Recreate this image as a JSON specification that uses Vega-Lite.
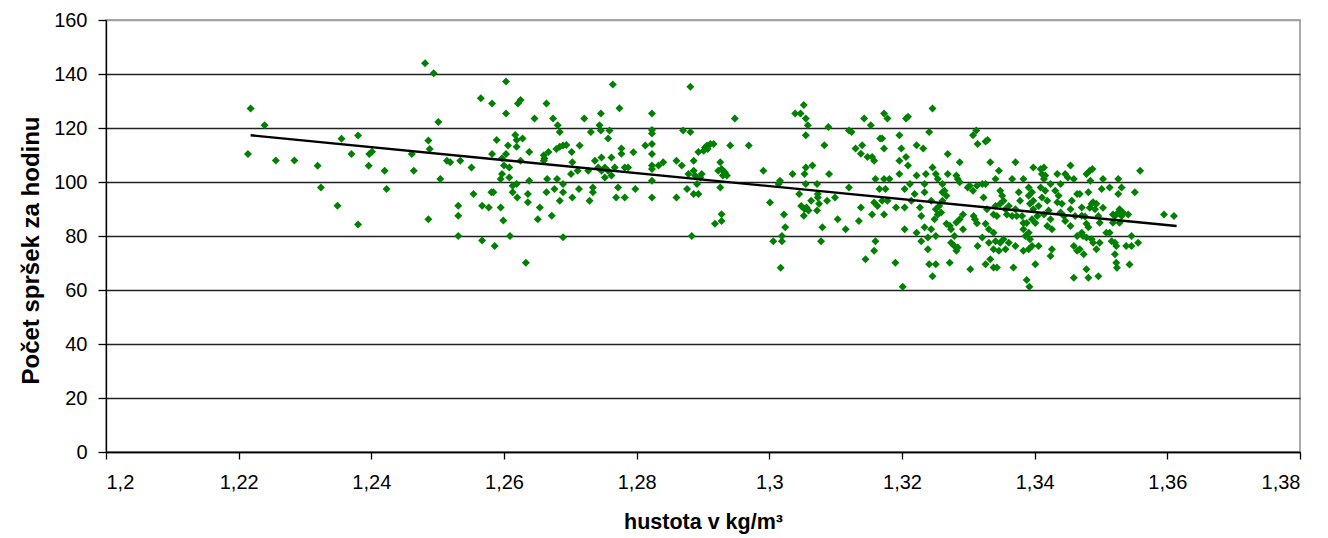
{
 "$schema": "https://vega.github.io/schema/vega-lite/v6.json",
 "width": 1194, "height": 432,
 "autosize": "none",
 "padding": {"left": 106, "top": 20, "right": 28, "bottom": 86},
 "background": "white",
 "config": {"view": {"stroke": "#909090", "strokeWidth": 1.5}, "font": "Liberation Sans"},
 "datasets": {
  "trend": [{"x": 1.2218, "y": 117.3}, {"x": 1.3614, "y": 83.7}],
  "points": [
{"x":1.2481,"y":144},{"x":1.2218,"y":127.2},{"x":1.2239,"y":121},{"x":1.2214,"y":110.4},{"x":1.2256,"y":108},{"x":1.2284,"y":108},{"x":1.2319,"y":106},{"x":1.2324,"y":98},{"x":1.2349,"y":91.2},{"x":1.2355,"y":116},{"x":1.238,"y":117.2},{"x":1.237,"y":110.4},{"x":1.238,"y":84.3},{"x":1.2396,"y":106},{"x":1.2397,"y":110.4},{"x":1.2401,"y":111.2},{"x":1.242,"y":104.2},{"x":1.2423,"y":97.4},{"x":1.2461,"y":110.4},{"x":1.2464,"y":104.2},{"x":1.2486,"y":115.4},{"x":1.2488,"y":112.2},{"x":1.2486,"y":86.2},
{"x":1.2494,"y":140.3},{"x":1.2501,"y":122.2},{"x":1.2504,"y":101.1},{"x":1.2514,"y":107.9},{"x":1.2519,"y":107.3},{"x":1.2534,"y":107.9},{"x":1.2551,"y":105.4},{"x":1.2554,"y":95.6},{"x":1.2531,"y":91.2},{"x":1.2531,"y":87.5},{"x":1.2531,"y":80},{"x":1.2567,"y":91.2},{"x":1.2567,"y":78.3},{"x":1.2565,"y":131},{"x":1.2582,"y":129.1},{"x":1.2603,"y":137.2},{"x":1.2603,"y":125.4},{"x":1.2621,"y":129.1},{"x":1.2625,"y":130.4},{"x":1.2589,"y":115.6},{"x":1.2582,"y":110.4},{"x":1.2581,"y":96.2},{"x":1.2584,"y":96.2},{"x":1.2577,"y":90.6},{"x":1.2595,"y":90.6},{"x":1.2599,"y":85.7},{"x":1.2586,"y":76.3},{"x":1.2609,"y":80},{"x":1.2597,"y":108.8},{"x":1.2603,"y":110.4},{"x":1.2606,"y":113.5},{"x":1.26,"y":106.1},{"x":1.2608,"y":105.4},{"x":1.2597,"y":103},{"x":1.2595,"y":101.1},{"x":1.2608,"y":101.7},{"x":1.2613,"y":98.6},{"x":1.2613,"y":96.2},{"x":1.2619,"y":99.3},{"x":1.262,"y":94.3},{"x":1.2617,"y":117.4},{"x":1.2619,"y":115.6},{"x":1.2619,"y":113.1},{"x":1.2628,"y":116.1},{"x":1.2625,"y":107.9},{"x":1.2638,"y":111.1},{"x":1.2638,"y":100.5},{"x":1.2636,"y":95.6},{"x":1.2636,"y":92.5},{"x":1.2633,"y":70.1},{"x":1.2646,"y":123.5},{"x":1.2664,"y":129.1},{"x":1.2654,"y":90.6},{"x":1.2651,"y":86.2},{"x":1.2672,"y":87.5},{"x":1.266,"y":109.9},{"x":1.2661,"y":108.7},{"x":1.2667,"y":111.1},{"x":1.266,"y":107.9},{"x":1.2665,"y":101.1},{"x":1.2664,"y":96.2},{"x":1.2674,"y":123.5},{"x":1.2681,"y":121},{"x":1.2684,"y":118.5},{"x":1.2676,"y":97.4},{"x":1.268,"y":101.1},{"x":1.2684,"y":93.1},{"x":1.2689,"y":96.2},{"x":1.2689,"y":99.3},{"x":1.2689,"y":79.5},{"x":1.2679,"y":112.2},{"x":1.2684,"y":113.1},{"x":1.2689,"y":113.5},{"x":1.2694,"y":113.7},{"x":1.2702,"y":111.1},{"x":1.2703,"y":107.3},{"x":1.2701,"y":103},{"x":1.2714,"y":113.5},{"x":1.2703,"y":94.3},{"x":1.2713,"y":97.4},{"x":1.2729,"y":93.1},{"x":1.2721,"y":123.5},{"x":1.2731,"y":118.5},{"x":1.2746,"y":125.4},{"x":1.2744,"y":121},{"x":1.2746,"y":119.1},{"x":1.2759,"y":119.1},{"x":1.2757,"y":116.1},{"x":1.2764,"y":136.1},{"x":1.2774,"y":127.3},{"x":1.2777,"y":112.4},{"x":1.2777,"y":110.5},{"x":1.2737,"y":107.9},{"x":1.2747,"y":109.1},{"x":1.2762,"y":109.1},{"x":1.2727,"y":104.2},{"x":1.2742,"y":105.4},{"x":1.2752,"y":105.4},{"x":1.2767,"y":105.4},{"x":1.2747,"y":104.2},{"x":1.2757,"y":104.2},{"x":1.2752,"y":101.7},{"x":1.2762,"y":102.4},{"x":1.2734,"y":98},{"x":1.2734,"y":96.2},{"x":1.2772,"y":98},{"x":1.2769,"y":94.3},{"x":1.2782,"y":94.3},{"x":1.2782,"y":105.4},{"x":1.2787,"y":105.4},{"x":1.2711,"y":104.2},
{"x":1.2795,"y":111},{"x":1.2798,"y":97.4},{"x":1.2823,"y":125.4},{"x":1.2823,"y":119.3},{"x":1.2823,"y":118},{"x":1.2823,"y":114.1},{"x":1.2813,"y":113.5},{"x":1.2823,"y":110.4},{"x":1.2823,"y":106.1},{"x":1.2823,"y":104.8},{"x":1.2823,"y":100.5},{"x":1.2823,"y":94.3},{"x":1.2833,"y":106.1},{"x":1.284,"y":107.3},{"x":1.286,"y":107.9},{"x":1.2868,"y":106.1},{"x":1.286,"y":94.3},{"x":1.2876,"y":97.4},{"x":1.287,"y":119.1},{"x":1.2881,"y":118.5},{"x":1.2881,"y":135.3},{"x":1.2883,"y":80},{"x":1.2886,"y":107.9},{"x":1.2886,"y":104.2},{"x":1.2878,"y":103},{"x":1.2888,"y":102.4},{"x":1.2891,"y":99.3},{"x":1.2886,"y":95.6},{"x":1.2893,"y":95.6},{"x":1.2896,"y":101.7},{"x":1.2898,"y":103},{"x":1.2893,"y":111.1},{"x":1.2901,"y":111.6},{"x":1.2903,"y":112.8},{"x":1.2906,"y":113.5},{"x":1.2911,"y":114.1},{"x":1.2916,"y":114.1},{"x":1.2907,"y":112.2},{"x":1.2926,"y":107.3},{"x":1.2928,"y":104.8},{"x":1.2923,"y":104.2},{"x":1.2933,"y":103.6},{"x":1.293,"y":102.4},{"x":1.2936,"y":102.4},{"x":1.2926,"y":98},{"x":1.2928,"y":88.1},{"x":1.2928,"y":85.6},{"x":1.2918,"y":84.5},{"x":1.2941,"y":113.5},{"x":1.2948,"y":123.5},{"x":1.2969,"y":113.5},{"x":1.2991,"y":104.2},{"x":1.3001,"y":92.4},{"x":1.3006,"y":78.1},{"x":1.3019,"y":80},{"x":1.3019,"y":78.1},{"x":1.3016,"y":100.5},{"x":1.3014,"y":99.3},{"x":1.3022,"y":88},{"x":1.3024,"y":83.2},{"x":1.3017,"y":68.2},{"x":1.3035,"y":103},{"x":1.3039,"y":125.4},{"x":1.3047,"y":125.4},{"x":1.3052,"y":128.5},{"x":1.3055,"y":123.5},{"x":1.3058,"y":121},{"x":1.3055,"y":117.3},{"x":1.3055,"y":105.4},{"x":1.3053,"y":103},{"x":1.3065,"y":106.1},{"x":1.3055,"y":99.3},{"x":1.3045,"y":95.6},{"x":1.3048,"y":91.1},{"x":1.3053,"y":90},{"x":1.3056,"y":90.6},{"x":1.3052,"y":87.5},{"x":1.3059,"y":89.4},{"x":1.3063,"y":93.1},{"x":1.3072,"y":99.3},{"x":1.3073,"y":95.6},{"x":1.3073,"y":94.3},{"x":1.3075,"y":91.9},{"x":1.3072,"y":89.4},{"x":1.308,"y":83.2},{"x":1.3078,"y":78.1},{"x":1.3083,"y":113.6},{"x":1.309,"y":103},{"x":1.3089,"y":120.4},{"x":1.3087,"y":93.1},
{"x":1.3099,"y":94.3},{"x":1.3103,"y":86.2},{"x":1.3115,"y":82.5},{"x":1.312,"y":98},{"x":1.312,"y":119.1},{"x":1.3124,"y":118.5},{"x":1.313,"y":112.4},{"x":1.314,"y":113.6},{"x":1.3138,"y":110.5},{"x":1.3135,"y":85.6},{"x":1.3138,"y":90.6},{"x":1.3143,"y":123.5},{"x":1.3153,"y":121},{"x":1.3148,"y":109.3},{"x":1.3155,"y":109.3},{"x":1.3158,"y":107.9},{"x":1.3145,"y":71.4},{"x":1.3158,"y":74.5},{"x":1.316,"y":78.1},{"x":1.3155,"y":88},{"x":1.3158,"y":92.4},{"x":1.316,"y":101.1},{"x":1.3166,"y":97.4},{"x":1.3163,"y":91.1},{"x":1.3167,"y":116.1},{"x":1.317,"y":116.1},{"x":1.3173,"y":125.4},{"x":1.3178,"y":123.5},{"x":1.3173,"y":112.4},{"x":1.3173,"y":101.1},{"x":1.3181,"y":101.1},{"x":1.3175,"y":97.4},{"x":1.317,"y":93.1},{"x":1.3173,"y":88},{"x":1.3178,"y":93.1},{"x":1.319,"y":70.1},{"x":1.3191,"y":90.6},{"x":1.3196,"y":117.3},{"x":1.3199,"y":112.4},{"x":1.3196,"y":107.9},{"x":1.3204,"y":90.6},{"x":1.3204,"y":97.4},{"x":1.3201,"y":61.2},{"x":1.3204,"y":82.5},{"x":1.3206,"y":123.5},{"x":1.3209,"y":124.2},{"x":1.3206,"y":109.3},{"x":1.3209,"y":106.1},{"x":1.3212,"y":99.3},{"x":1.3196,"y":103},{"x":1.3214,"y":93.1},{"x":1.3222,"y":113.6},{"x":1.3232,"y":112.4},{"x":1.3222,"y":102.4},{"x":1.3219,"y":95.6},{"x":1.3222,"y":81.2},{"x":1.3227,"y":90.6},{"x":1.3229,"y":87.4},{"x":1.3229,"y":78.1},{"x":1.3234,"y":99.3},{"x":1.3234,"y":96.2},{"x":1.3236,"y":103},{"x":1.3234,"y":83.2},{"x":1.3239,"y":75.1},{"x":1.3239,"y":79.4},{"x":1.3241,"y":118.5},{"x":1.3246,"y":127.2},{"x":1.3246,"y":105.4},{"x":1.3244,"y":93.1},{"x":1.3244,"y":82.5},{"x":1.3241,"y":69.5},{"x":1.3251,"y":69.5},{"x":1.3246,"y":65.1},{"x":1.3249,"y":86.2},{"x":1.3251,"y":103},{"x":1.3254,"y":101.1},{"x":1.3251,"y":89.9},{"x":1.3254,"y":88},{"x":1.3256,"y":91.1},{"x":1.3251,"y":80},{"x":1.3259,"y":88.7},{"x":1.3261,"y":99.3},{"x":1.3261,"y":96.2},{"x":1.3264,"y":96.8},{"x":1.3267,"y":94.9},{"x":1.3261,"y":93.1},{"x":1.3267,"y":84.5},{"x":1.3269,"y":110.4},{"x":1.3269,"y":103},{"x":1.3272,"y":83.8},{"x":1.3274,"y":82.5},{"x":1.3272,"y":70.1},{"x":1.3274,"y":77.5},{"x":1.3279,"y":80},{"x":1.3279,"y":76.3},{"x":1.3282,"y":74.5},{"x":1.3284,"y":75.7},{"x":1.3282,"y":102.4},{"x":1.3284,"y":101.1},{"x":1.3287,"y":107.3},{"x":1.3282,"y":85},{"x":1.3287,"y":86.2},{"x":1.3292,"y":88},{"x":1.3292,"y":82.5},{"x":1.3287,"y":99.9},{"x":1.3299,"y":98},{"x":1.3302,"y":98.6},{"x":1.3303,"y":67.7},{"x":1.3307,"y":117.3},{"x":1.3312,"y":119.1},{"x":1.3314,"y":114.1},{"x":1.3308,"y":87.4},{"x":1.331,"y":86.2},{"x":1.3313,"y":84.7},{"x":1.3314,"y":76.3},{"x":1.3307,"y":96.8},{"x":1.3313,"y":98.6},
{"x":1.3326,"y":115},{"x":1.3329,"y":115.6},{"x":1.3333,"y":107.3},{"x":1.3346,"y":104.2},{"x":1.3341,"y":101.1},{"x":1.3321,"y":99.3},{"x":1.3326,"y":99.3},{"x":1.3323,"y":94.3},{"x":1.3348,"y":96.8},{"x":1.3351,"y":94.9},{"x":1.3353,"y":93.1},{"x":1.3348,"y":91.9},{"x":1.3341,"y":91.1},{"x":1.3328,"y":89.9},{"x":1.3338,"y":88},{"x":1.3343,"y":87.4},{"x":1.3356,"y":89.9},{"x":1.3361,"y":91.1},{"x":1.3358,"y":88},{"x":1.3366,"y":87.4},{"x":1.3326,"y":84.5},{"x":1.3331,"y":82.5},{"x":1.3338,"y":81.2},{"x":1.3321,"y":79.4},{"x":1.3331,"y":77.5},{"x":1.3341,"y":78.1},{"x":1.3348,"y":77.5},{"x":1.3353,"y":78.8},{"x":1.3361,"y":77.5},{"x":1.3356,"y":75.1},{"x":1.3338,"y":75.1},{"x":1.3346,"y":74.5},{"x":1.3333,"y":71.4},{"x":1.3326,"y":69.5},{"x":1.3338,"y":68.3},{"x":1.3343,"y":68.3},{"x":1.3371,"y":76.3},{"x":1.3368,"y":68.3},{"x":1.3371,"y":107.3},{"x":1.3366,"y":101.1},{"x":1.3376,"y":96.2},{"x":1.3378,"y":93.1},{"x":1.3371,"y":89.9},{"x":1.3373,"y":87.4},{"x":1.3381,"y":87.4},{"x":1.3383,"y":84.8},{"x":1.3388,"y":84.8},{"x":1.3383,"y":82.5},{"x":1.3391,"y":81.2},{"x":1.3386,"y":80},{"x":1.3393,"y":78.8},{"x":1.3383,"y":74.5},{"x":1.3391,"y":75.1},{"x":1.3396,"y":76.3},{"x":1.3388,"y":63.7},{"x":1.3392,"y":61.2},{"x":1.3383,"y":101.1},{"x":1.3391,"y":98},{"x":1.3396,"y":96.2},{"x":1.3391,"y":94.9},{"x":1.3398,"y":93.1},{"x":1.3393,"y":91.9},{"x":1.3398,"y":89.9},{"x":1.3404,"y":87.4},{"x":1.3401,"y":84.8},{"x":1.3396,"y":86.2},{"x":1.3406,"y":76.3},{"x":1.3401,"y":69.5},{"x":1.3398,"y":105.4},{"x":1.3409,"y":104.8},{"x":1.3414,"y":105.4},{"x":1.3411,"y":103},{"x":1.3416,"y":102.4},{"x":1.3414,"y":101.1},{"x":1.3409,"y":98},{"x":1.3416,"y":96.8},{"x":1.3411,"y":94.3},{"x":1.3406,"y":91.1},{"x":1.3419,"y":93.1},{"x":1.3421,"y":89.4},{"x":1.3414,"y":88},{"x":1.3424,"y":86.2},{"x":1.3419,"y":83.7},{"x":1.3426,"y":82.5},{"x":1.3426,"y":75.1},{"x":1.3424,"y":72.6},{"x":1.3434,"y":103},{"x":1.3424,"y":99.3},{"x":1.3439,"y":99.3},{"x":1.3431,"y":96.8},{"x":1.3436,"y":94.9},{"x":1.3434,"y":92.5},{"x":1.3441,"y":91.9},{"x":1.3439,"y":88.7},{"x":1.3444,"y":87.4},{"x":1.3446,"y":85.6},{"x":1.3454,"y":83.7},{"x":1.3446,"y":103},{"x":1.3454,"y":106.1},{"x":1.345,"y":101.7},{"x":1.3459,"y":101.1},{"x":1.3464,"y":95.6},{"x":1.3456,"y":93.1},{"x":1.3454,"y":89.9},{"x":1.3461,"y":87.4},{"x":1.3464,"y":80},{"x":1.3459,"y":76.3},{"x":1.3464,"y":74.5},{"x":1.3459,"y":64.5},
{"x":1.3468,"y":95.6},{"x":1.3471,"y":90.6},{"x":1.3471,"y":81.2},{"x":1.3468,"y":75.1},{"x":1.3474,"y":73.2},{"x":1.3478,"y":67.7},{"x":1.3481,"y":64.5},{"x":1.3496,"y":65.1},{"x":1.3478,"y":103},{"x":1.3483,"y":104.2},{"x":1.3487,"y":104.8},{"x":1.3484,"y":100.5},{"x":1.3481,"y":96.2},{"x":1.3471,"y":87.5},{"x":1.3476,"y":87.2},{"x":1.3478,"y":84.5},{"x":1.3481,"y":83.2},{"x":1.3473,"y":80},{"x":1.3478,"y":79.4},{"x":1.3486,"y":78.8},{"x":1.3488,"y":77.5},{"x":1.3493,"y":75.1},{"x":1.3498,"y":77.5},{"x":1.3486,"y":91.9},{"x":1.3488,"y":92.5},{"x":1.3493,"y":91.9},{"x":1.3491,"y":89.9},{"x":1.3483,"y":90.5},{"x":1.3496,"y":87.4},{"x":1.3498,"y":84.9},{"x":1.3503,"y":90.5},{"x":1.3501,"y":97.4},{"x":1.3503,"y":101.1},{"x":1.3508,"y":81.2},{"x":1.3513,"y":98},{"x":1.3513,"y":81.2},{"x":1.3516,"y":78.1},{"x":1.3518,"y":88},{"x":1.3521,"y":87.4},{"x":1.3518,"y":84.9},{"x":1.3521,"y":77.5},{"x":1.3523,"y":76.3},{"x":1.3521,"y":73.2},{"x":1.3523,"y":70.1},{"x":1.3524,"y":68.2},{"x":1.3526,"y":101.1},{"x":1.3531,"y":98},{"x":1.3526,"y":95.6},{"x":1.3526,"y":88.7},{"x":1.3528,"y":89.9},{"x":1.3531,"y":87.4},{"x":1.3533,"y":88.7},{"x":1.3528,"y":84.9},{"x":1.3538,"y":76.3},{"x":1.3541,"y":88},{"x":1.3543,"y":69.4},{"x":1.3546,"y":80},{"x":1.3546,"y":76.3},{"x":1.3551,"y":96.2},{"x":1.3556,"y":77.5},{"x":1.3559,"y":104.2},{"x":1.3595,"y":88},{"x":1.361,"y":87.4}
  ]
 },
 "encoding": {
  "x": {"field": "x", "type": "quantitative",
   "scale": {"domain": [1.2, 1.38], "nice": false, "zero": false},
   "axis": {"title": "hustota v kg/m³", "values": [1.2, 1.22, 1.24, 1.26, 1.28, 1.3, 1.32, 1.34, 1.36, 1.38],
    "labelExpr": "replace(toString(datum.value), '.', ',')",
    "grid": false, "domainColor": "#000", "domainWidth": 1.3, "tickColor": "#000", "tickSize": 7, "tickWidth": 1.3,
    "labelFontSize": 20, "labelColor": "#000", "labelPadding": 29, "labelBaseline": "alphabetic", "labelFont": "Liberation Sans",
    "titleFontSize": 21.5, "titleFontWeight": "bold", "titleColor": "#000", "titleFont": "Liberation Sans",
    "titleBaseline": "alphabetic", "titleY": 76}},
  "y": {"field": "y", "type": "quantitative",
   "scale": {"domain": [0, 160], "nice": false},
   "axis": {"title": "Počet spršek za hodinu", "values": [0, 20, 40, 60, 80, 100, 120, 140, 160],
    "grid": true, "gridColor": {"condition": {"test": "datum.value == 160", "value": "#a0a0a0"}, "value": "#222"}, "gridWidth": 1.3,
    "domainColor": "#000", "domainWidth": 1.3, "tickColor": "#000", "tickSize": 8, "tickWidth": 1.3,
    "labelFontSize": 20, "labelColor": "#000", "labelPadding": 11, "labelFont": "Liberation Sans",
    "titleFontSize": 24, "titleFontWeight": "bold", "titleColor": "#000", "titleFont": "Liberation Sans",
    "titleAngle": 270, "titleBaseline": "bottom", "titleX": -63, "titleY": 230, "titleAlign": "center"}}
 },
 "layer": [
  {"data": {"name": "points"}, "mark": {"type": "point", "shape": "diamond", "filled": true, "color": "#008000", "size": 64, "opacity": 1}},
  {"data": {"name": "trend"}, "mark": {"type": "line", "color": "#000", "strokeWidth": 2.4}}
 ]
}
